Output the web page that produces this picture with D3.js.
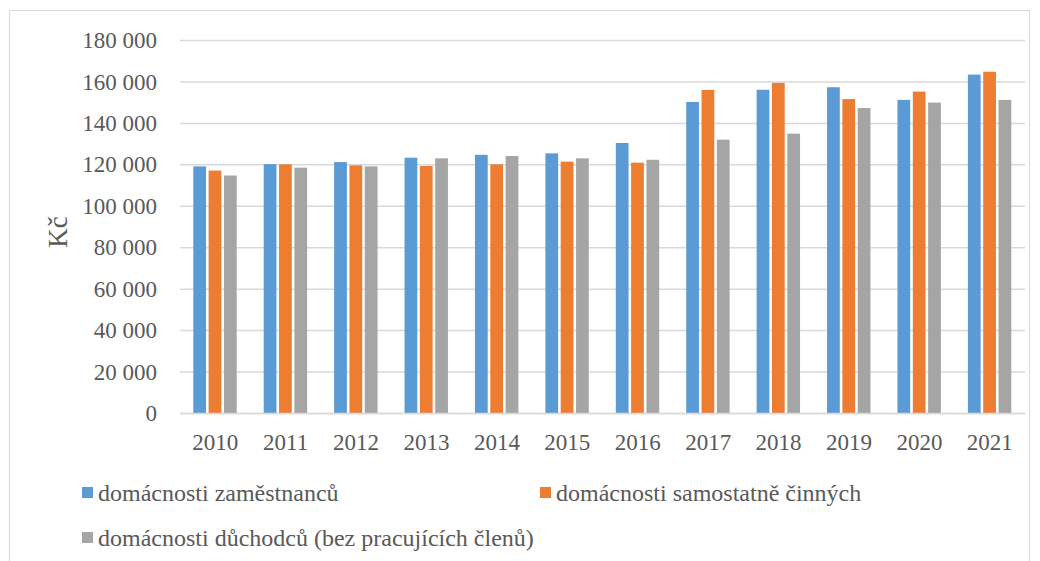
<!DOCTYPE html>
<html lang="cs">
<head>
<meta charset="UTF-8">
<title>Výdaje domácností</title>
<script src="https://cdn.jsdelivr.net/npm/d3@7/dist/d3.min.js"></script>
<style>
    body { margin: 0; background: #fff; }
    text { font-family: "Liberation Serif", "Times New Roman", serif; fill: #595959; }
</style>
</head>
<body>
<svg id="mainsvg" width="1040" height="561"></svg>
<script>
    // data
    const years = ['2010','2011','2012','2013','2014','2015','2016','2017','2018','2019','2020','2021'];
    const seriesNames = ['domácnosti zaměstnanců', 'domácnosti samostatně činných', 'domácnosti důchodců (bez pracujících členů)'];
    const zamestnanci = [119000, 120100, 121100, 123200, 124600, 125300, 130300, 150100, 156000, 157200, 151100, 163300];
    const osvc        = [117000, 120000, 119500, 119200, 120000, 121300, 120800, 155900, 159300, 151500, 155100, 164700];
    const duchodci    = [114600, 118400, 119000, 122900, 124000, 122900, 122200, 131900, 134800, 147200, 149800, 151100];
    const yTicks = [0, 20000, 40000, 60000, 80000, 100000, 120000, 140000, 160000, 180000];
    const colors = ['#5B9BD5', '#ED7D31', '#A5A5A5'];

    const svg = d3.select('#mainsvg');
    const margin = {left: 180, right: 15, top: 40, bottom: 148};
    const W = +svg.attr('width'), H = +svg.attr('height');

    // chart border
    svg.append('rect')
        .attr('x', 9.5).attr('y', 10.5)
        .attr('width', 1020).attr('height', 600)
        .attr('fill', 'none').attr('stroke', '#D9D9D9').attr('stroke-width', 1);

    const x0 = d3.scaleBand().domain(years).range([margin.left, W - margin.right]);
    const x1 = d3.scaleBand().domain(d3.range(3)).range([12, 58]);
    const y = d3.scaleLinear().domain([0, 180000]).range([413, 40]);

    const fmt = v => d3.format(',')(v).replace(/,/g, ' ');

    // y axis: gridlines + labels
    const yAxis = svg.append('g')
        .attr('transform', `translate(${margin.left},0)`)
        .call(d3.axisLeft(y).tickValues(yTicks).tickSize(-(W - margin.right - margin.left)).tickPadding(23).tickFormat(fmt));
    yAxis.select('.domain').remove();
    yAxis.selectAll('.tick line').attr('stroke', '#D9D9D9').attr('stroke-width', 1.5);
    yAxis.selectAll('.tick text')
        .attr('font-size', 23)
        .attr('fill', '#595959')
        .attr('dy', '0.33em');

    // bars
    const table = years.map((yr, i) => ({year: yr, vals: [zamestnanci[i], osvc[i], duchodci[i]]}));
    const groups = svg.append('g').selectAll('g')
        .data(table)
        .join('g')
        .attr('transform', d => `translate(${x0(d.year)},0)`);
    groups.selectAll('rect')
        .data(d => d.vals.map((v, k) => ({k, v})))
        .join('rect')
        .attr('x', d => x1(d.k) + 1.3)
        .attr('width', x1.bandwidth() - 2.6)
        .attr('y', d => y(d.v))
        .attr('height', d => y(0) - y(d.v))
        .attr('fill', d => colors[d.k]);

    // x axis
    const xAxis = svg.append('g')
        .attr('transform', `translate(0,${y(0)})`)
        .call(d3.axisBottom(x0).tickSize(0).tickPadding(21));
    xAxis.select('.domain').attr('stroke', '#D9D9D9').attr('stroke-width', 1.5);
    xAxis.selectAll('.tick text')
        .attr('font-size', 23)
        .attr('fill', '#595959');

    // y title
    svg.append('text')
        .attr('transform', 'translate(67,232) rotate(-90)')
        .attr('text-anchor', 'middle')
        .attr('font-size', 27)
        .text('Kč');

    // legend
    const legendPos = [[82, 487], [540, 487], [82, 532]];
    const legend = svg.append('g').selectAll('g')
        .data(seriesNames)
        .join('g')
        .attr('transform', (d, i) => `translate(${legendPos[i][0]},${legendPos[i][1]})`);
    legend.append('rect')
        .attr('width', 11).attr('height', 11)
        .attr('fill', (d, i) => colors[i]);
    legend.append('text')
        .attr('x', 16).attr('y', 14)
        .attr('font-size', 24)
        .text(d => d);
</script>
</body>
</html>
